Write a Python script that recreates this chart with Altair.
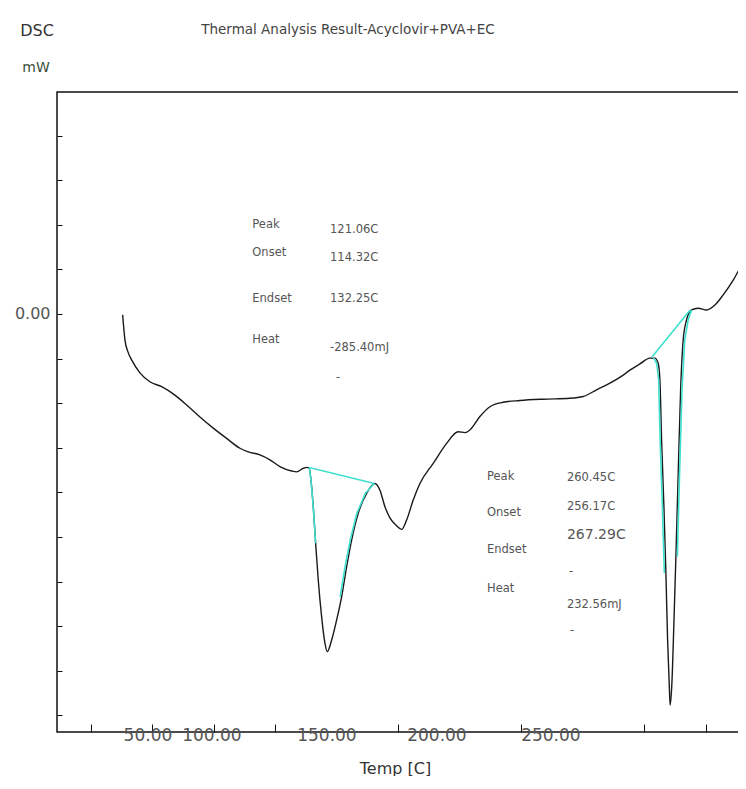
import altair as alt
import pandas as pd

# ---- DSC curve (Temp [C], heat flow in tick units, 0.00 reference) ----
temp = [37.89, 38.82, 40.04, 41.54, 44.92, 48.98, 53.74, 59.15, 63.90, 69.31,
        74.72, 80.16, 85.57, 88.94, 93.70, 97.76, 101.83, 106.59, 108.62, 111.30,
        112.80, 113.74, 114.43, 115.37, 116.34, 117.40, 118.78, 120.12, 121.06, 122.85,
        124.88, 126.91, 128.94, 130.98, 133.66, 137.07, 140.45, 142.48, 144.51, 146.54,
        149.27, 151.30, 153.33, 156.02, 158.74, 164.15, 169.59, 174.31, 177.03, 179.07,
        183.13, 187.20, 192.60, 199.39, 208.86, 219.72, 225.12, 230.57, 235.98, 241.38,
        244.11, 248.17, 252.24, 254.27, 255.61, 256.30, 256.99, 257.93, 258.74, 259.43,
        260.08, 260.45, 261.18, 261.99, 262.80, 263.74, 264.72, 265.77, 267.15, 269.19,
        271.87, 275.28, 278.66, 282.03, 286.10, 289.51, 291.26]
heat = [-0.02, -0.58, -0.85, -1.03, -1.32, -1.52, -1.63, -1.82, -2.04, -2.31,
        -2.56, -2.79, -3.01, -3.09, -3.16, -3.27, -3.42, -3.52, -3.54, -3.46,
        -3.44, -3.46, -3.72, -4.32, -5.14, -5.96, -6.79, -7.38, -7.57, -7.31,
        -6.86, -6.34, -5.67, -5.07, -4.47, -4.02, -3.80, -3.95, -4.32, -4.57,
        -4.75, -4.83, -4.62, -4.17, -3.80, -3.35, -2.90, -2.64, -2.66, -2.60,
        -2.30, -2.08, -1.98, -1.94, -1.91, -1.89, -1.85, -1.70, -1.55, -1.37,
        -1.26, -1.12, -0.99, -0.99, -1.11, -1.48, -2.83, -4.32, -5.81, -7.31,
        -8.27, -8.77, -8.27, -6.93, -5.44, -3.57, -1.70, -0.58, -0.13, 0.09,
        0.13, 0.09, 0.20, 0.43, 0.76, 1.10, 1.28]

# ---- analysis construction lines (baselines and tangents) ----
seg_names = ["b1", "l1", "r1", "b2", "l2", "r2"]
seg_temp = [
    [113.74, 140.2],
    [113.74, 114.43, 115.37, 116.34],
    [126.3, 128.3, 130.4, 133.1, 136.6, 140.2],
    [253.0, 268.6],
    [253.8, 255.0, 255.8, 256.4, 257.3, 258.1],
    [263.4, 264.3, 265.3, 266.4, 267.8, 269.2],
]
seg_heat = [
    [-3.44, -3.80],
    [-3.44, -3.72, -4.32, -5.14],
    [-6.34, -5.67, -5.07, -4.47, -4.02, -3.80],
    [-0.97, 0.09],
    [-0.99, -1.11, -1.48, -2.83, -4.32, -5.81],
    [-5.44, -3.57, -1.70, -0.58, -0.13, 0.09],
]

# ---- result annotations ----
ann_text = ["Peak", "121.06C", "Onset", "114.32C", "Endset", "132.25C", "Heat", "-285.40mJ", "-",
            "Peak", "260.45C", "Onset", "256.17C", "Endset", "Heat", "-", "232.56mJ", "-"]
ann_temp = [90.6, 122.2, 90.6, 122.2, 90.6, 122.2, 90.6, 122.2, 124.6,
            186.0, 218.5, 186.0, 218.5, 186.0, 186.0, 219.3, 218.5, 219.8]
ann_heat = [2.00, 1.88, 1.37, 1.26, 0.34, 0.34, -0.58, -0.76, -1.43,
            -3.65, -3.68, -4.46, -4.33, -5.29, -6.17, -5.78, -6.52, -7.11]
big_text = ["267.29C"]
big_temp = [218.5]
big_heat = [-4.96]

x_ticks = [25, 50, 75, 100, 150, 200, 250, 275]
x_labelled = [50, 100, 150, 200, 250]
y_ticks = list(range(-9, 5))

# ---- tables ----
curve = pd.DataFrame({"T": temp, "v": heat, "i": range(len(temp))})
rows = []
for name, ts, hs in zip(seg_names, seg_temp, seg_heat):
    for k, (t, h) in enumerate(zip(ts, hs)):
        rows.append({"T": t, "v": h, "seg": name, "k": k})
segs = pd.DataFrame(rows)
ann = pd.DataFrame({"T": ann_temp, "v": ann_heat, "txt": ann_text})
big = pd.DataFrame({"T": big_temp, "v": big_heat, "txt": big_text})

FONT = "DejaVu Sans"
W, H = 689, 640

xs = alt.Scale(domain=[11.2, 291.3], nice=False, zero=False)
ys = alt.Scale(domain=[-9.372, 4.977], nice=False, zero=False)

label_test = " || ".join(f"datum.value == {v}" for v in x_labelled)
x_axis = alt.Axis(
    values=x_ticks,
    labelExpr=f"({label_test}) ? format(datum.value, '.2f') : ''",
    labelOffset={"condition": [
        {"test": "datum.value == 50", "value": -5},
        {"test": "datum.value == 100", "value": -64},
        {"test": "datum.value == 150", "value": -72},
        {"test": "datum.value == 200", "value": -85},
        {"test": "datum.value == 250", "value": -94},
    ], "value": 0},
    labelOverlap=False, labelFlush=False, labelBound=False,
    domain=False, grid=False, offset=-8, tickSize=8, tickColor="#111", tickWidth=1,
    labelPadding=-5, labelFont=FONT, labelFontSize=17, labelColor="#555",
    title="Temp [C]", titleFont=FONT, titleFontSize=16, titleFontWeight="normal",
    titleColor="#333", titleX=338, titleY=49, titleBaseline="alphabetic",
)
y_axis = alt.Axis(
    values=y_ticks,
    labelExpr="datum.value == 0 ? '0.00' : ''",
    domain=False, grid=False, offset=-5, tickSize=5, tickColor="#111", tickWidth=1,
    labelPadding=7, labelFont=FONT, labelFontSize=16, labelColor="#555",
    labelOverlap=False, title=None,
)

line = alt.Chart(curve).mark_line(color="#1a1a1a", strokeWidth=1.4, interpolate="monotone", clip=True).encode(
    x=alt.X("T:Q", scale=xs, axis=x_axis),
    y=alt.Y("v:Q", scale=ys, axis=y_axis),
    order="i:Q",
)
cyan = alt.Chart(segs).mark_line(color="#3fe0cf", strokeWidth=1.6, clip=True).encode(
    x=alt.X("T:Q", scale=xs),
    y=alt.Y("v:Q", scale=ys),
    detail="seg:N",
    order="k:Q",
)
ann_layer = alt.Chart(ann).mark_text(align="left", baseline="middle", font=FONT, fontSize=11.5, color="#555").encode(
    x=alt.X("T:Q", scale=xs), y=alt.Y("v:Q", scale=ys), text="txt:N")
big_layer = alt.Chart(big).mark_text(align="left", baseline="middle", font=FONT, fontSize=14, color="#555").encode(
    x=alt.X("T:Q", scale=xs), y=alt.Y("v:Q", scale=ys), text="txt:N")

hdr = pd.DataFrame({"txt": ["DSC", "mW", "Thermal Analysis Result-Acyclovir+PVA+EC"]})
dsc = alt.Chart(hdr).transform_filter("datum.txt == 'DSC'").mark_text(
    font=FONT, fontSize=16, color="#333", baseline="middle").encode(
    text="txt:N", x=alt.value(-20), y=alt.value(-61))
mw = alt.Chart(hdr).transform_filter("datum.txt == 'mW'").mark_text(
    font=FONT, fontSize=14, color="#3b503b", baseline="middle").encode(
    text="txt:N", x=alt.value(-21), y=alt.value(-24))
ttl = alt.Chart(hdr).transform_filter("datum.txt != 'DSC' && datum.txt != 'mW'").mark_text(
    font=FONT, fontSize=13.5, color="#444", baseline="middle").encode(
    text="txt:N", x=alt.value(291), y=alt.value(-62))

chart = alt.layer(line, cyan, ann_layer, big_layer, dsc, mw, ttl).properties(
    width=W, height=H,
    autosize=alt.AutoSizeParams(type="none"),
    padding={"left": 49, "top": 84, "right": -8, "bottom": 44},
    background="white",
).configure_view(stroke="#111", strokeWidth=1.5)

chart.save("out.html", embed_options={"renderer": "svg", "actions": False})
